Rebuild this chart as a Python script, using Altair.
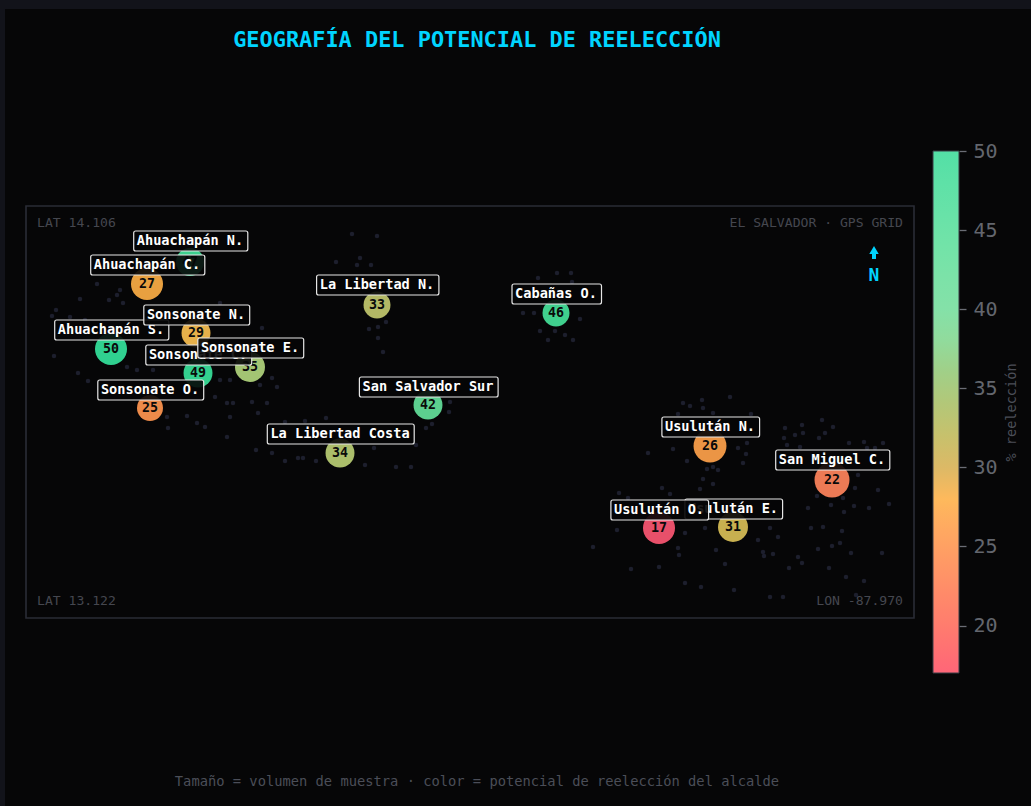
import altair as alt
import pandas as pd

# Map grid readings (east-west, north-south)
names = ["Ahuachapán N.", "Ahuachapán C.", "Ahuachapán S.", "Sonsonate N.", "Sonsonate C.", "Sonsonate E.",
         "Sonsonate O.", "La Libertad N.", "La Libertad Costa", "San Salvador Sur", "Cabañas O.",
         "Usulután N.", "San Miguel C.", "Usulután E.", "Usulután O."]
city_x = [190, 147, 111, 196, 198, 250, 150, 377, 340, 428, 556, 710, 832, 733, 659]
city_y = [262, 284, 349, 333, 373, 367, 408, 305, 453, 405, 313, 446, 480, 527, 528]
label_y = [241, 265, 330, 315, 355, 348, 390, 285, 434, 387, 294, 427, 460, 509, 510]
reeleccion = [47, 27, 50, 29, 49, 35, 25, 33, 34, 42, 46, 26, 22, 31, 17]
muestra = [196, 256, 256, 210, 210, 225, 169, 182, 210, 210, 182, 272, 306, 225, 256]

noise_x = [97, 80, 109, 117, 120, 123, 56, 52, 70, 85, 54, 78, 88, 127, 137, 153, 220, 230, 215, 227, 233, 252, 258,
           267, 230, 187, 197, 205, 277, 272, 260, 220, 262, 336, 167, 168, 227,
           352, 377, 360, 357, 371, 369, 378, 386, 378, 383,
           571, 557, 538, 572, 523, 534, 580, 540, 555, 565, 573, 548,
           450, 449, 426, 432, 326, 305, 285, 256, 272, 285, 298, 303, 316, 374, 365, 396, 411, 416,
           730, 702, 690, 683, 703, 713, 751, 678, 822, 833, 802, 785, 795, 803, 784, 787, 825, 819, 864, 883, 849,
           875, 867, 800, 747, 738, 746, 673, 648, 687, 743, 713, 707, 718, 858, 703, 713, 700, 662, 619, 670, 628,
           855, 878, 817, 843, 831, 854, 869, 889, 808, 844, 617, 593, 685, 705, 678, 679, 716, 725, 659, 631, 758,
           763, 764, 773, 770, 778, 811, 823, 842, 832, 840, 818, 851, 882, 798, 802, 789, 829, 846, 864, 685, 701,
           734, 770, 783, 856]
noise_y = [284, 299, 300, 295, 290, 303, 310, 316, 317, 320, 356, 373, 381, 367, 370, 370, 380, 380, 397, 403, 403, 402, 413,
           403, 417, 416, 423, 427, 387, 378, 385, 303, 328, 262, 417, 428, 437,
           234, 236, 258, 265, 265, 329, 327, 322, 338, 352,
           273, 273, 278, 282, 313, 313, 319, 331, 331, 335, 340, 340,
           402, 412, 428, 424, 418, 421, 422, 450, 453, 461, 458, 458, 461, 448, 465, 467, 467, 445,
           397, 400, 406, 403, 408, 413, 414, 414, 420, 427, 425, 428, 435, 433, 438, 445, 433, 438, 442, 443, 443,
           448, 448, 447, 443, 448, 454, 449, 453, 461, 463, 467, 469, 470, 475, 479, 484, 489, 488, 493, 494, 498,
           488, 490, 496, 498, 505, 506, 508, 504, 508, 512, 530, 547, 533, 528, 548, 555, 550, 564, 567, 569, 540,
           552, 556, 554, 528, 537, 528, 527, 531, 546, 543, 549, 553, 553, 557, 563, 568, 568, 577, 581, 583, 587,
           590, 597, 597, 595]

bar_values = [17, 20, 25, 28, 30, 35, 39, 45, 50]
bar_colors = ["#ff6678", "#ff7c6e", "#ffa064", "#feb95c", "#dcb966", "#a9c97f", "#88e0a8", "#6de3a8", "#53dfa6"]
point_values = [17, 22, 25, 27, 29, 31, 33, 35, 42, 46, 50]
point_colors = ["#e8506a", "#ec7a55", "#ec8a4a", "#e8a040", "#e6b04a", "#c8b050", "#b3b865", "#a3c473", "#5ccf8f",
                "#40d08e", "#30d090"]
bar_ticks = [20, 25, 30, 35, 40, 45, 50]

FONT = "DejaVu Sans Mono"
CYAN = "#00d4ff"
xs = alt.Scale(domain=[26, 914], nice=False, zero=False)
ys = alt.Scale(domain=[618, 206], nice=False, zero=False)
X = lambda f: alt.X(f, type="quantitative", scale=xs, axis=None)
Y = lambda f: alt.Y(f, type="quantitative", scale=ys, axis=None)

cities = pd.DataFrame({"name": names, "x": city_x, "y": city_y, "ly": label_y, "v": reeleccion, "n": muestra})
half = cities["name"].str.len() * 4.1
cities["bl"], cities["br"] = cities["x"] - half - 3, cities["x"] + half + 4.5
cities["bt"], cities["bb"] = cities["ly"] - 10, cities["ly"] + 10
noise = pd.DataFrame({"x": noise_x, "y": noise_y})

dots = alt.Chart(noise).mark_circle(size=20, color="#1d1f2d", opacity=1).encode(x=X("x"), y=Y("y"))
bubbles = alt.Chart(cities).mark_circle(opacity=1).encode(
    x=X("x"), y=Y("y"),
    color=alt.Color("v:Q", legend=None, scale=alt.Scale(domain=point_values, range=point_colors)),
    size=alt.Size("n:Q", legend=None, scale=alt.Scale(domain=[0, 400], range=[0, 1600], zero=True)),
)
numbers = alt.Chart(cities).mark_text(font=FONT, fontSize=13.3, fontWeight="bold", color="#0a0a0a", baseline="middle").encode(
    x=X("x"), y=Y("y"), text="v:Q")

tags = []
for i in range(len(cities)):
    row = cities.iloc[[i]]
    tags.append(alt.Chart(row).mark_rect(fill="#060607", fillOpacity=0.9, stroke="#e6e6e6", strokeWidth=1.2,
                                         cornerRadius=2).encode(x=X("bl"), x2="br", y=Y("bt"), y2="bb"))
    tags.append(alt.Chart(row).mark_text(font=FONT, fontSize=13.6, fontWeight="bold", color="#ffffff",
                                         baseline="middle").encode(x=X("x"), y=Y("ly"), text="name:N"))


def note(text, x, y, size, color, align="left", weight="normal"):
    return alt.Chart(pd.DataFrame({"t": [text]})).mark_text(
        font=FONT, fontSize=size, color=color, align=align, baseline="middle", fontWeight=weight
    ).encode(x=alt.value(x), y=alt.value(y), text="t:N")


notes = [
    note("GEOGRAFÍA DEL POTENCIAL DE REELECCIÓN", 451, -166, 21.9, CYAN, "center", "bold"),
    note("Tamaño = volumen de muestra · color = potencial de reelección del alcalde", 451, 576, 13.75, "#4b4e58", "center"),
    note("LAT 14.106", 11, 17, 13.1, "#45474f"),
    note("LAT 13.122", 11, 395, 13.1, "#45474f"),
    note("EL SALVADOR · GPS GRID", 877, 17, 13.1, "#45474f", "right"),
    note("LON -87.970", 877, 395, 13.1, "#45474f", "right"),
    note("N", 848, 70, 18, CYAN, "center", "bold"),
]
arrow_shaft = alt.Chart(pd.DataFrame({"a": [0]})).mark_rule(color=CYAN, strokeWidth=4).encode(
    x=alt.value(848), y=alt.value(44), y2=alt.value(53))
arrow_head = alt.Chart(pd.DataFrame({"a": [0]})).mark_point(
    shape="triangle-up", filled=True, color=CYAN, opacity=1, size=90
).encode(x=alt.value(848), y=alt.value(44))

main = alt.layer(dots, bubbles, numbers, *tags, *notes, arrow_shaft, arrow_head)

colorbar = alt.Chart(pd.DataFrame({"v": bar_ticks})).mark_point(filled=True, size=0, opacity=1).encode(
    x=alt.value(0),
    y=alt.Y("v:Q", scale=alt.Scale(domain=[17, 50], range=[467, -55], nice=False, zero=False),
            axis=alt.Axis(orient="right", offset=45, values=bar_ticks, domain=False, grid=False, tickSize=7,
                          tickColor="#6a6d75", tickWidth=1.3, labelColor="#63666e", labelFont=FONT, labelFontSize=20,
                          labelPadding=7, title="% reelección", titleFont=FONT, titleFontSize=13.6,
                          titleFontWeight="normal", titleColor="#4b4e58", titleAngle=270, titleX=59, titleY=206)),
    fill=alt.Fill("v:Q", scale=alt.Scale(domain=bar_values, range=bar_colors),
                  legend=alt.Legend(orient="none", legendX=907, legendY=-55, direction="vertical", title=None,
                                    gradientLength=522, gradientThickness=26, gradientStrokeColor="#3a3c46",
                                    gradientStrokeWidth=1, labelOpacity=0, labelFontSize=1)),
)

chart = alt.layer(main, colorbar).resolve_scale(y="independent", color="independent").properties(
    width=888, height=412, background="#060607",
    padding={"left": 21, "top": 197, "right": 117, "bottom": 188},
    autosize=alt.AutoSizeParams(type="none"),
).configure_view(stroke="#2a2c36", strokeWidth=1.6, fill="#060607")

chart.save("out.html", embed_options={"renderer": "svg", "actions": False,
                                      "defaultStyle": "body{margin:9px 0 0 5px;background:#12131a;overflow:hidden}"})
